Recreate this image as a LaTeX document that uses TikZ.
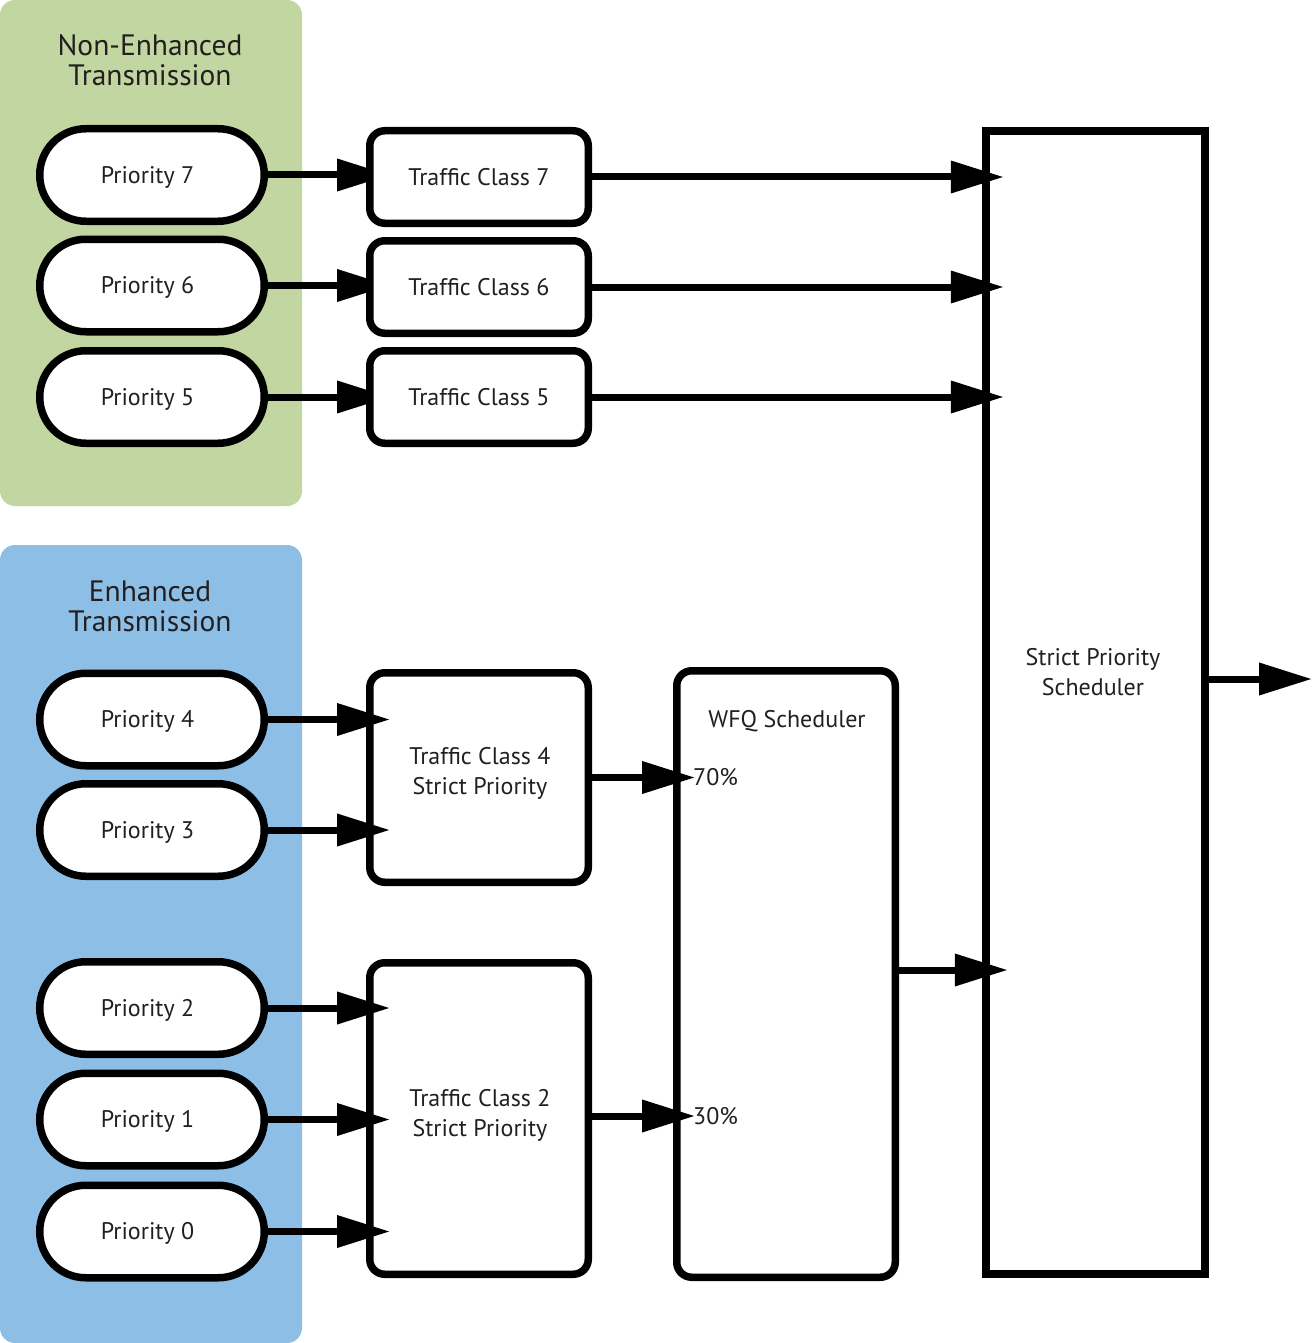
\documentclass[tikz,border=0pt]{standalone}
\usepackage{fontspec}
\setmainfont{PT Sans}
\usetikzlibrary{arrows.meta,calc}
\definecolor{panelgreen}{RGB}{193,214,160}
\definecolor{panelblue}{RGB}{141,191,230}
\definecolor{ink}{RGB}{35,31,32}
\pgfdeclarelayer{panel}
\pgfdeclarelayer{under}
\pgfsetlayers{panel,under,main}
\begin{document}
\begin{tikzpicture}[x=1pt,y=-1pt,
  body/.style={font=\fontsize{24}{30}\selectfont, text=ink},
  title/.style={font=\fontsize{29.5}{30}\selectfont, text=ink, align=center, inner sep=0pt},
  oneline/.style={body, text height=16.8pt, text depth=0pt, inner sep=0pt},
  pill/.style={oneline, draw=black, line width=7.5pt, fill=white, minimum width=224.5pt, minimum height=92.5pt, rounded corners=46pt, execute at end node={\hspace*{9pt}}},
  tcbox/.style={oneline, draw=black, line width=7.5pt, fill=white, rounded corners=15pt, minimum width=218.5pt},
  multi/.style={body, align=center, inner sep=0pt},
  arr/.style={draw=black, line width=7pt, shorten >=-6pt, -{Triangle[length=53pt,width=31pt]}},
  pct/.style={oneline, anchor=west}
]
\useasboundingbox (0,0) rectangle (1312,1343);
\begin{pgfonlayer}{panel}
  \fill[panelgreen, rounded corners=15pt] (0,0) rectangle (302,506);
  \fill[panelblue, rounded corners=15pt] (0,545) rectangle (302,1343);
\end{pgfonlayer}
\node[title] (gtitle) at (150,60) {Non-Enhanced\\Transmission};
\node[title] (btitle) at (150,606) {Enhanced\\Transmission};

% priorities
\node[pill] (p7) at (152,175) {Priority 7};
\node[pill] (p6) at (152,285.5) {Priority 6};
\node[pill] (p5) at (152,397) {Priority 5};
\node[pill] (p4) at (152,719.5) {Priority 4};
\node[pill] (p3) at (152,830) {Priority 3};
\node[pill] (p2) at (152,1008) {Priority 2};
\node[pill] (p1) at (152,1119.5) {Priority 1};
\node[pill] (p0) at (152,1231.5) {Priority 0};

% traffic classes
\node[tcbox, minimum height=92.5pt] (tc7) at (479,177) {Traffic Class 7};
\node[tcbox, minimum height=92.5pt] (tc6) at (479,287) {Traffic Class 6};
\node[tcbox, minimum height=92.5pt] (tc5) at (479,397) {Traffic Class 5};
\node[tcbox, minimum height=209.5pt] (tc4) at (479,777.5) {};
\node[multi] (tc4txt) at (480,773.5) {Traffic Class 4\\Strict Priority};
\node[tcbox, minimum height=311.5pt] (tc2) at (479,1118.5) {};
\node[multi] (tc2txt) at (480,1115) {Traffic Class 2\\Strict Priority};

% schedulers
\node[tcbox, minimum height=606.5pt] (wfq) at (786,974) {};
\node[oneline] (wfqtxt) at (787,719.5) {WFQ Scheduler};
\node[draw=black, line width=8pt, fill=white, minimum width=219.5pt, minimum height=1143.5pt, inner sep=0pt] (sps) at (1095.5,702.5) {};
\node[multi] (spstxt) at (1093,672) {Strict Priority\\Scheduler};

% arrows hidden under the upper boxes
\begin{pgfonlayer}{under}
  \draw[arr] (p7.east) -- ($(p7.east -| tc7.west)+(18,0)$);
  \draw[arr] (p6.east) -- ($(p6.east -| tc6.west)+(18,0)$);
  \draw[arr] (p5.east) -- ($(p5.east -| tc5.west)+(18,0)$);
\end{pgfonlayer}

% arrows into enhanced traffic classes
\draw[arr] (p4.east) -- ($(p4.east -| tc4.west)+(18,0)$);
\draw[arr] (p3.east) -- ($(p3.east -| tc4.west)+(18,0)$);
\draw[arr] (p2.east) -- ($(p2.east -| tc2.west)+(18,0)$);
\draw[arr] (p1.east) -- ($(p1.east -| tc2.west)+(18,0)$);
\draw[arr] (p0.east) -- ($(p0.east -| tc2.west)+(18,0)$);

% into strict priority scheduler
\draw[arr] (tc7.east) -- ($(tc7.east -| sps.west)+(16,0)$);
\draw[arr] (tc6.east) -- ($(tc6.east -| sps.west)+(16,0)$);
\draw[arr] (tc5.east) -- ($(tc5.east -| sps.west)+(16,0)$);

% into WFQ
\coordinate (t70) at ($(tc4.east -| wfq.west)+(16,0)$);
\draw[arr] (tc4.east) -- (t70);
\node[pct] (l70) at ($(t70)+(4,0)$) {70\%};
\coordinate (t30src) at ($(tc2.east)+(0,-2.5)$);
\coordinate (t30) at ($(t30src -| wfq.west)+(16,0)$);
\draw[arr] (t30src) -- (t30);
\node[pct] (l30) at ($(t30)+(4,0)$) {30\%};

% WFQ to SPS
\coordinate (wout) at ($(wfq.east)+(0,-4)$);
\draw[arr] (wout) -- ($(wout -| sps.west)+(20,0)$);

% output
\coordinate (out) at (1312,679);
\draw[arr, shorten >=0pt] (sps.east |- out) -- (out);
\end{tikzpicture}
\end{document}
